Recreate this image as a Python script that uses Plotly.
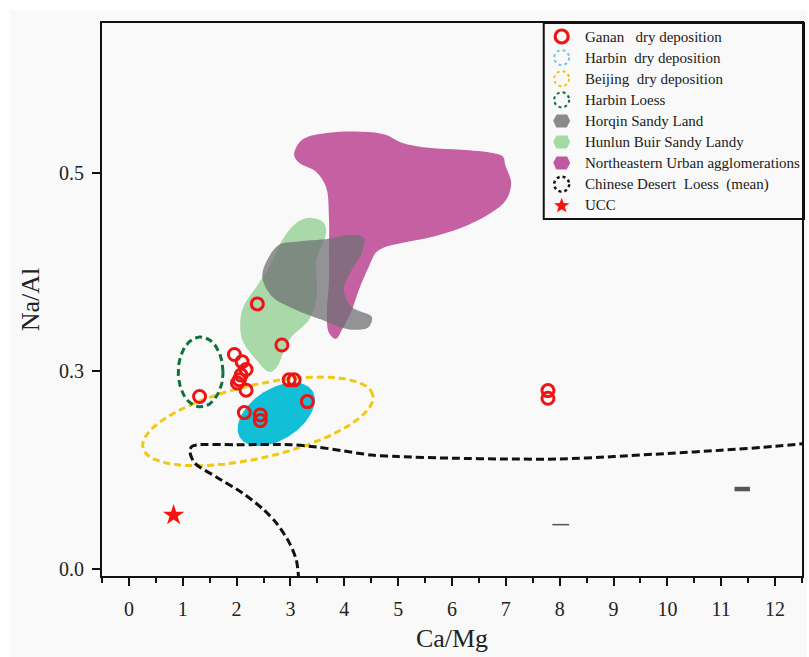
import math
import numpy as np
import plotly.graph_objects as go

# ---------------- data ----------------
# Ganan dry deposition samples
ganan_x = [2.385, 2.841, 1.959, 2.102, 2.176, 2.083, 2.052, 2.015, 2.176, 1.312,
           2.976, 3.068, 3.314, 2.144, 2.440, 2.440, 7.782, 7.782]
ganan_y = [0.335, 0.283, 0.271, 0.262, 0.252, 0.245, 0.239, 0.235, 0.226, 0.218,
           0.239, 0.239, 0.2115, 0.1976, 0.1947, 0.1875, 0.2254, 0.2158]

# UCC
ucc_x = [0.83]
ucc_y = [0.068]

# two short stray dash marks present in the original figure
mark_x = [8.02, 11.39]
mark_y = [0.056, 0.101]

# Chinese Desert Loess (mean) curve
desert_x = [12.6, 12.0, 11.0, 10.0, 9.0, 8.0, 7.0, 6.0, 5.0, 4.5, 4.0, 3.5, 3.0,
            2.0, 1.3, 1.17, 1.13, 1.22, 1.63, 2.11, 2.50, 2.74, 2.98, 3.11, 3.15]
desert_y = [0.159, 0.155, 0.150, 0.146, 0.142, 0.139, 0.139, 0.140, 0.142, 0.144,
            0.149, 0.154, 0.157, 0.157, 0.157, 0.155, 0.149, 0.134, 0.116, 0.096,
            0.075, 0.058, 0.033, 0.011, -0.010]

# ellipse fields: centre x, centre y, semi-axis 1, semi-axis 2 (Ca/Mg units), tilt (deg)
harbin_dry = [2.736, 0.1955, 0.80, 0.47, 33.0]
beijing_dry = [2.394, 0.1865, 2.19, 0.678, 12.9]
harbin_loess = [1.331, 0.249, 0.416, 0.647, 0.0]

# source-area fields (outlines)
urban_x = [3.068, 3.216, 3.715, 4.325, 4.769, 5.065, 5.564, 6.174, 6.728, 6.950,
           6.987, 7.098, 7.006, 6.728, 6.174, 5.564, 5.065, 4.769, 4.584, 4.455,
           4.270, 4.140, 3.956, 3.845, 3.715, 3.678, 3.715, 3.715, 3.715, 3.660,
           3.475, 3.161, 3.068]
urban_y = [0.5234, 0.5424, 0.5512, 0.5525, 0.5487, 0.5386, 0.5322, 0.5297, 0.5259, 0.5209,
           0.5107, 0.4880, 0.4665, 0.4501, 0.4311, 0.4185, 0.4121, 0.4071, 0.3995, 0.3818,
           0.3527, 0.3274, 0.3022, 0.2908, 0.2984, 0.3274, 0.3616, 0.4033, 0.4450, 0.4829,
           0.5019, 0.5133, 0.5234]

hunlun_x = [3.401, 3.623, 3.660, 3.567, 3.475, 3.494, 3.457, 3.346, 2.976, 2.736,
            2.606, 2.366, 2.107, 2.070, 2.144, 2.366, 2.606, 2.847, 3.068, 3.253, 3.401]
hunlun_y = [0.4437, 0.4374, 0.4235, 0.4071, 0.3869, 0.3565, 0.3338, 0.3148, 0.2895, 0.2541,
            0.2491, 0.2642, 0.2895, 0.3148, 0.3338, 0.3565, 0.3818, 0.4159, 0.4349, 0.4425, 0.4437]

horqin_x = [2.791, 3.105, 3.715, 4.140, 4.362, 4.325, 4.140, 3.993, 4.140, 4.510,
            4.455, 4.214, 3.900, 3.586, 3.105, 2.662, 2.477, 2.569, 2.791]
horqin_y = [0.4096, 0.4134, 0.4172, 0.4223, 0.4185, 0.3995, 0.3780, 0.3527, 0.3312, 0.3186,
            0.3059, 0.3022, 0.3059, 0.3148, 0.3274, 0.3439, 0.3692, 0.3906, 0.4096]

x_ticks = list(range(0, 13))
y_tickvals = [0.0, 0.25, 0.5]
y_ticktext = ["0.0", "0.3", "0.5"]

legend_labels = [
    "Ganan\u00a0\u00a0 dry deposition",
    "Harbin\u00a0 dry deposition",
    "Beijing\u00a0 dry deposition",
    "Harbin Loess",
    "Horqin Sandy Land",
    "Hunlun Buir Sandy Landy",
    "Northeastern Urban agglomerations",
    "Chinese Desert\u00a0 Loess\u00a0 (mean)",
    "UCC",
]

# ---------------- layout constants ----------------
W, H = 809, 657
ML, MR, MT, MB = 102, 5, 23, 81
PW, PH = W - ML - MR, H - MT - MB
XR = [-0.5, 12.5]
YR = [-0.0089, 0.690]
K = (PH / (YR[1] - YR[0])) / (PW / (XR[1] - XR[0]))  # y-unit to x-unit screen ratio
FONT = "Liberation Serif, Times New Roman, serif"


def ellipse(p, n=160):
    cx, cy, a, b, ang = p
    t = np.linspace(0, 2 * np.pi, n)
    th = math.radians(ang)
    u = a * np.cos(t) * math.cos(th) - b * np.sin(t) * math.sin(th)
    v = a * np.cos(t) * math.sin(th) + b * np.sin(t) * math.cos(th)
    return cx + u, cy + v / K


fig = go.Figure()

# filled source areas
fig.add_trace(go.Scatter(x=urban_x, y=urban_y, mode="lines", fill="toself",
                         fillcolor="rgba(194,88,158,0.95)",
                         line=dict(width=0, shape="spline", smoothing=1),
                         name="Northeastern Urban agglomerations", showlegend=False))
fig.add_trace(go.Scatter(x=hunlun_x, y=hunlun_y, mode="lines", fill="toself",
                         fillcolor="rgba(137,204,137,0.72)",
                         line=dict(width=0, shape="spline", smoothing=1),
                         name="Hunlun Buir Sandy Landy", showlegend=False))
fig.add_trace(go.Scatter(x=horqin_x, y=horqin_y, mode="lines", fill="toself",
                         fillcolor="rgba(112,112,116,0.75)",
                         line=dict(width=0, shape="spline", smoothing=1),
                         name="Horqin Sandy Land", showlegend=False))

# Harbin dry deposition (filled ellipse)
ex, ey = ellipse(harbin_dry)
fig.add_trace(go.Scatter(x=ex, y=ey, mode="lines", fill="toself",
                         fillcolor="#11bfd6", line=dict(width=0),
                         name="Harbin dry deposition", showlegend=False))

# Beijing dry deposition (dashed ellipse)
ex, ey = ellipse(beijing_dry)
fig.add_trace(go.Scatter(x=ex, y=ey, mode="lines",
                         line=dict(color="#f2c811", width=3, dash="7px,4px"),
                         name="Beijing dry deposition", showlegend=False))

# Harbin Loess (dashed ellipse)
ex, ey = ellipse(harbin_loess)
fig.add_trace(go.Scatter(x=ex, y=ey, mode="lines",
                         line=dict(color="#11703f", width=3, dash="7px,4px"),
                         name="Harbin Loess", showlegend=False))

# Chinese Desert Loess (mean)
fig.add_trace(go.Scatter(x=desert_x, y=desert_y, mode="lines",
                         line=dict(color="#111111", width=3, dash="8px,4px",
                                   shape="spline", smoothing=0.8),
                         name="Chinese Desert Loess (mean)", showlegend=False))

# Ganan samples
fig.add_trace(go.Scatter(x=ganan_x, y=ganan_y, mode="markers",
                         marker=dict(symbol="circle-open", size=12, color="#ec1414",
                                     line=dict(width=3, color="#ec1414")),
                         name="Ganan dry deposition", showlegend=False))

# UCC
fig.add_trace(go.Scatter(x=ucc_x, y=ucc_y, mode="markers",
                         marker=dict(symbol="star", size=16, color="#ff1010",
                                     line=dict(width=0)),
                         name="UCC", showlegend=False))

# stray marks
fig.add_trace(go.Scatter(x=mark_x, y=mark_y, mode="markers",
                         marker=dict(symbol="line-ew", size=[12, 11], color="#111111",
                                     line=dict(width=[1.5, 4.5], color="#111111")),
                         showlegend=False, hoverinfo="skip"))

# ---------------- manual legend ----------------
shapes = []
annotations = []
# page background (light grey panel inside a thin white border)
shapes.append(dict(type="rect", xref="paper", yref="paper", layer="below",
                   x0=(10 - ML) / PW, x1=(W - ML) / PW,
                   y0=(MT + PH - H) / PH, y1=(MT + PH - 10) / PH,
                   fillcolor="#f9f9f9", line=dict(width=0)))

LB = dict(l=545, r=806, t=23, b=219)
shapes.append(dict(type="rect", xref="paper", yref="paper", layer="above",
                   x0=(LB["l"] - ML) / PW, x1=(LB["r"] - ML) / PW,
                   y0=(MT + PH - LB["b"]) / PH, y1=(MT + PH - LB["t"]) / PH,
                   line=dict(color="#111111", width=2), fillcolor="rgba(0,0,0,0)"))

sym_px = 563
txt_px = 584
row0, drow = 36.5, 21.1


def py(p):
    return (MT + PH - p) / PH


def px(p):
    return (p - ML) / PW


def circ(i, r, color, width, dash="solid"):
    return dict(type="circle", xref="paper", yref="paper", layer="above",
                xsizemode="pixel", ysizemode="pixel",
                xanchor=px(sym_px), yanchor=py(row0 + drow * i),
                x0=-r, x1=r, y0=-r, y1=r,
                line=dict(color=color, width=width, dash=dash))


def poly(i, path, color):
    return dict(type="path", xref="paper", yref="paper", layer="above",
                xsizemode="pixel", ysizemode="pixel",
                xanchor=px(sym_px), yanchor=py(row0 + drow * i),
                path=path, fillcolor=color, line=dict(width=0))


hexpath = "M -8.5,0.5 L -5,6.5 L 5.5,6.5 L 8.5,0 L 5,-6.5 L -5.5,-6.5 Z"
star_pts = []
for k in range(10):
    rr = 8.0 if k % 2 == 0 else 3.4
    a = math.pi / 2 + k * math.pi / 5
    star_pts.append((rr * math.cos(a), rr * math.sin(a) - 0.5))
star_path = "M " + " L ".join(f"{x:.2f},{y:.2f}" for x, y in star_pts) + " Z"

shapes += [
    circ(0, 6.5, "#ec1414", 3.2),
    circ(1, 7.5, "#72c6df", 2, "3px,3px"),
    circ(2, 7.5, "#f0c419", 2, "3px,3px"),
    circ(3, 7.5, "#0f6b3c", 2, "3px,3px"),
    poly(4, hexpath, "#8a8a8a"),
    poly(5, hexpath, "#a3d9a3"),
    poly(6, hexpath, "#c05aa0"),
    circ(7, 7.5, "#111111", 2.5, "3px,3px"),
    poly(8, star_path, "#ff1010"),
]

for i, lab in enumerate(legend_labels):
    annotations.append(dict(xref="paper", yref="paper", x=px(txt_px), y=py(row0 + drow * i),
                            xanchor="left", yanchor="middle", showarrow=False,
                            text=lab, font=dict(family=FONT, size=15, color="#1a1a1a")))

fig.update_layout(
    width=W, height=H,
    margin=dict(l=ML, r=MR, t=MT, b=MB, pad=0),
    paper_bgcolor="white",
    plot_bgcolor="rgba(0,0,0,0)",
    font=dict(family=FONT, color="#111111"),
    showlegend=False,
    shapes=shapes,
    annotations=annotations,
    xaxis=dict(range=XR, tickmode="array", tickvals=x_ticks,
               ticktext=[str(v) for v in x_ticks],
               ticks="outside", ticklen=8, tickwidth=2, tickcolor="#111111",
               minor=dict(dtick=0.5, tick0=0, ticks="outside", ticklen=5,
                          tickwidth=2, tickcolor="#111111"),
               showline=True, linewidth=2, linecolor="#111111", mirror=True,
               showgrid=False, zeroline=False,
               tickfont=dict(family=FONT, size=20, color="#222222"),
               ticklabelstandoff=6,
               title=dict(text="Ca/Mg", font=dict(family=FONT, size=26, color="#222222"),
                          standoff=10)),
    yaxis=dict(range=YR, tickmode="array", tickvals=y_tickvals, ticktext=y_ticktext,
               ticks="outside", ticklen=8, tickwidth=2, tickcolor="#111111",
               showline=True, linewidth=2, linecolor="#111111", mirror=True,
               showgrid=False, zeroline=False,
               tickfont=dict(family=FONT, size=20, color="#222222"),
               ticklabelstandoff=4,
               title=dict(text="Na/Al", font=dict(family=FONT, size=26, color="#222222"),
                          standoff=12)),
)

fig.write_html("out.html")
